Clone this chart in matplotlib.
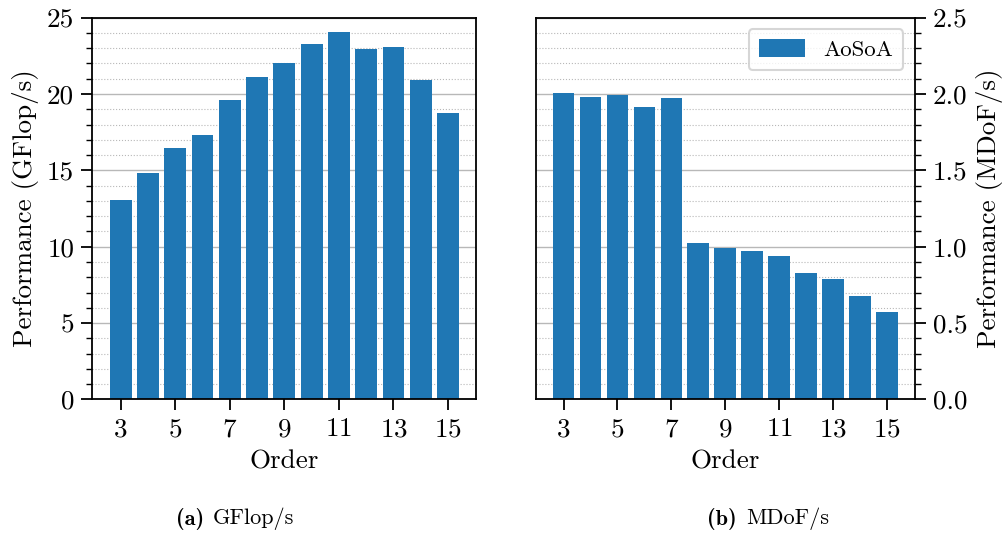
import numpy as np
import matplotlib
matplotlib.use("Agg")
import matplotlib.pyplot as plt
from matplotlib.ticker import MultipleLocator, FormatStrFormatter

plt.rcParams['font.family'] = 'cmr10'
plt.rcParams['mathtext.fontset'] = 'cm'
plt.rcParams['axes.unicode_minus'] = False
plt.rcParams['axes.formatter.use_mathtext'] = True
plt.rcParams['font.size'] = 19.5

orders = np.arange(3, 16)
gflops = [13.05, 14.82, 16.46, 17.31, 19.60, 21.11, 22.03, 23.27, 24.06, 22.95, 23.08, 20.91, 18.75]
mdofs = [2.004, 1.980, 1.993, 1.914, 1.973, 1.023, 0.990, 0.970, 0.938, 0.826, 0.787, 0.675, 0.570]
order_ticks = [3, 5, 7, 9, 11, 13, 15]

fig = plt.figure(figsize=(10.03, 5.34), dpi=100)
ax1 = fig.add_axes([0.092, 0.252, 0.383, 0.715])
ax2 = fig.add_axes([0.534, 0.252, 0.378, 0.715])


def style(ax, top, major, minor):
    ax.set_axisbelow(True)
    ax.set_ylim(0, top)
    ax.yaxis.set_major_locator(MultipleLocator(major))
    ax.yaxis.set_minor_locator(MultipleLocator(minor))
    ax.grid(which='major', axis='y', color='#b8b8b8', linewidth=1.0)
    ax.grid(which='minor', axis='y', color='#b8b8b8', linewidth=0.8, linestyle=':')
    ax.set_xticks(order_ticks)
    ax.set_xlabel('Order', labelpad=6)
    ax.tick_params(which='major', length=8, width=1.3, pad=5)
    ax.tick_params(which='minor', length=4, width=1.0)
    for s in ax.spines.values():
        s.set_linewidth(1.3)


ax1.bar(orders, gflops, width=0.8, color='#1f77b4')
style(ax1, 25, 5, 1)
ax1.set_ylabel('Performance (GFlop/s)', labelpad=6)
ax1.yaxis.set_major_formatter(FormatStrFormatter('%d'))

ax2.bar(orders, mdofs, width=0.8, color='#1f77b4', label='AoSoA')
style(ax2, 2.5, 0.5, 0.1)
ax2.yaxis.tick_right()
ax2.yaxis.set_label_position('right')
ax2.yaxis.set_major_formatter(FormatStrFormatter('%.1f'))
ax2.set_ylabel('Performance (MDoF/s)', labelpad=6)
leg = ax2.legend(loc='upper right', fontsize=16.5, fancybox=True, framealpha=0.8,
                 edgecolor='#cccccc', handlelength=2.0, handleheight=0.8,
                 handletextpad=0.8, borderpad=0.45)
leg.get_frame().set_linewidth(1.5)

# subfigure captions: bold tag followed by regular text
for x_tag, x_txt, tag, txt in [(0.175, 0.212, '(a)', 'GFlop/s'),
                               (0.705, 0.744, '(b)', 'MDoF/s')]:
    fig.text(x_tag, 0.008, tag, family='cmb10', ha='left', va='bottom', fontsize=16)
    fig.text(x_txt, 0.008, txt, ha='left', va='bottom', fontsize=16)

fig.savefig('out.png', dpi=100)
